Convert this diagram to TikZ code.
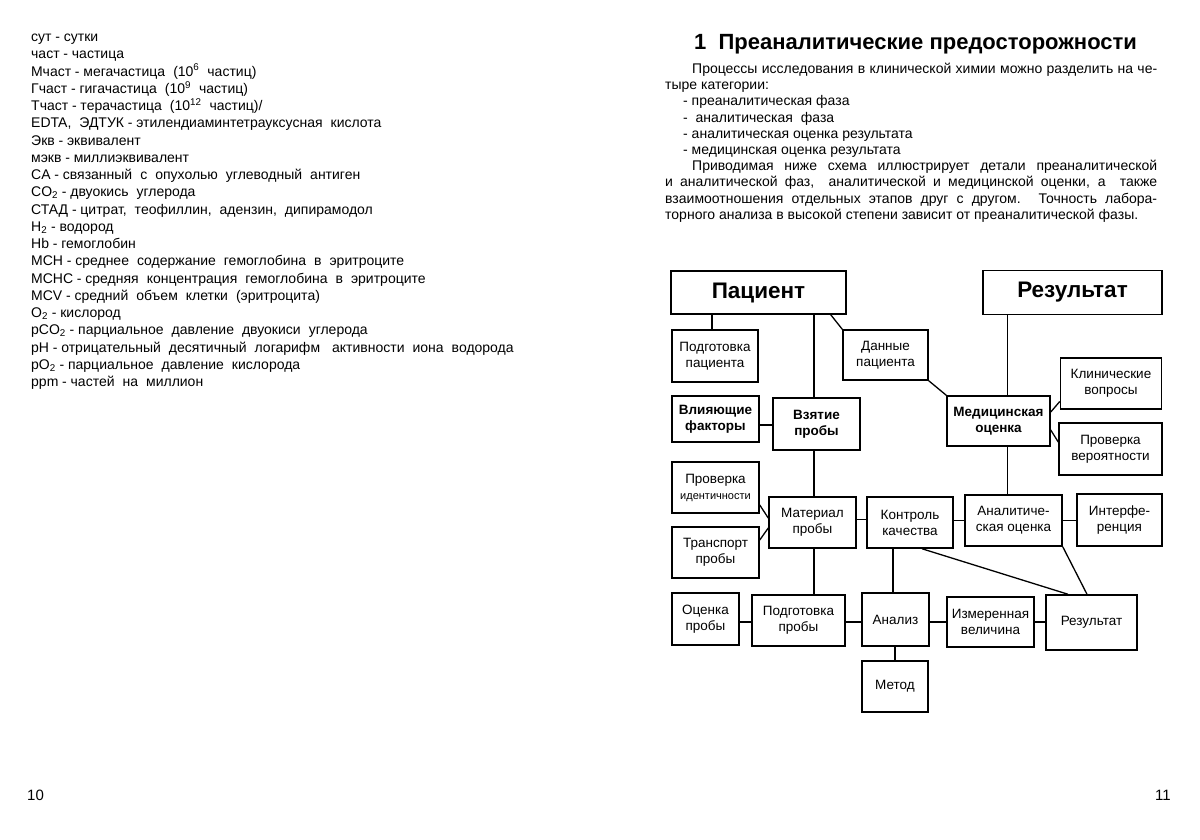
\documentclass[tikz,border=0pt]{standalone}
\usepackage{fontspec}
\setmainfont{Liberation Sans}
\newcommand\dd{\hspace{3.8pt}-\hspace{3.8pt}}
\newcommand\widesp{\spaceskip=8pt\relax}
\begin{document}
\begin{tikzpicture}[x=1pt,y=-1pt,
  lt/.style={anchor=west, inner sep=0pt, font={\fontsize{14}{16}\selectfont\widesp}, text height=10pt, text depth=3pt},
  pt/.style={anchor=west, inner sep=0pt, font=\fontsize{14}{16}\selectfont, text height=10pt, text depth=3pt},
  bx/.style={draw, line width=1.5pt, align=center, inner sep=0pt, font=\fontsize{13.5}{16}\selectfont},
  big/.style={bx, font=\bfseries\fontsize{22.5}{24}\selectfont},
  bb/.style={bx, font=\bfseries\fontsize{13.5}{16}\selectfont},
  ln/.style={line width=1.3pt}
]
\useasboundingbox (0,0) rectangle (1200,839);
\fill[white] (0,0) rectangle (1200,839);

% left page glossary
\node[lt] (l1)  at (31,38.00)  {сут\dd сутки};
\node[lt] (l2)  at (31,55.25)  {част\dd частица};
\node[lt] (l3)  at (31,72.50)  {Мчаст\dd мегачастица (10\textsuperscript{6} частиц)};
\node[lt] (l4)  at (31,89.75)  {Гчаст\dd гигачастица (10\textsuperscript{9} частиц)};
\node[lt] (l5)  at (31,107.00) {Тчаст\dd терачастица (10\textsuperscript{12} частиц)/};
\node[lt] (l6)  at (31,124.25) {EDTA, ЭДТУК\dd этилендиаминтетрауксусная кислота};
\node[lt] (l7)  at (31,141.50) {Экв\dd эквивалент};
\node[lt] (l8)  at (31,158.75) {мэкв\dd миллиэквивалент};
\node[lt] (l9)  at (31,176.00) {CA\dd связанный с опухолью углеводный антиген};
\node[lt] (l10) at (31,193.25) {CO\textsubscript{2}\dd двуокись углерода};
\node[lt] (l11) at (31,210.50) {СТАД\dd цитрат, теофиллин, адензин, дипирамодол};
\node[lt] (l12) at (31,227.75) {H\textsubscript{2}\dd водород};
\node[lt] (l13) at (31,245.00) {Hb\dd гемоглобин};
\node[lt] (l14) at (31,262.25) {MCH\dd среднее содержание гемоглобина в эритроците};
\node[lt] (l15) at (31,279.50) {MCHC\dd средняя концентрация гемоглобина в эритроците};
\node[lt] (l16) at (31,296.75) {MCV\dd средний объем клетки (эритроцита)};
\node[lt] (l17) at (31,314.00) {O\textsubscript{2}\dd кислород};
\node[lt] (l18) at (31,331.25) {pCO\textsubscript{2}\dd парциальное давление двуокиси углерода};
\node[lt] (l19) at (31,348.50) {pH\dd отрицательный десятичный логарифм\hspace{4pt} активности иона водорода};
\node[lt] (l20) at (31,365.75) {pO\textsubscript{2}\dd парциальное давление кислорода};
\node[lt] (l21) at (31,383.00) {ppm\dd частей на миллион};

% page numbers
\node[anchor=west, inner sep=0pt, font=\fontsize{15}{17}\selectfont] (pg10) at (27,795) {10};
\node[anchor=east, inner sep=0pt, font=\fontsize{15}{17}\selectfont] (pg11) at (1171,795) {11};

% right page heading and text
\node[anchor=west, inner sep=0pt, font=\bfseries\fontsize{22}{24}\selectfont] (title) at (694,44) {1\ \ Преаналитические предосторожности};
\node[pt] (p1)  at (692,70.0)  {\makebox[465pt][s]{Процессы исследования в клинической химии можно разделить на че-}};
\node[pt] (p2)  at (665,86.2)  {тыре категории:};
\node[pt] (p3)  at (683,102.4) {- преаналитическая фаза};
\node[pt] (p4)  at (683,118.6) {-\ \ аналитическая\ \ фаза};
\node[pt] (p5)  at (683,134.8) {- аналитическая оценка результата};
\node[pt] (p6)  at (683,151.0) {- медицинская оценка результата};
\node[pt] (p7)  at (692,167.2) {\makebox[465pt][s]{Приводимая ниже схема иллюстрирует детали преаналитической}};
\node[pt] (p8)  at (665,183.4) {\makebox[492pt][s]{и аналитической фаз,\ \ аналитической и медицинской оценки, а\ \ также}};
\node[pt] (p9)  at (665,199.6) {\makebox[492pt][s]{взаимоотношения отдельных этапов друг с другом. Точность лабора-}};
\node[pt] (p10) at (665,215.8) {торного анализа в высокой степени зависит от преаналитической фазы.};

% diagram boxes
\node[big, minimum width=175pt, minimum height=43pt] (pac) at (758.5,292.5) {Пациент};
\node[big, minimum width=179pt, minimum height=44pt] (res) at (1072.5,292.5) {Результат};
\node[bx, minimum width=86pt, minimum height=52pt] (podpac) at (715,356) {Подготовка\\пациента};
\node[bx, minimum width=85pt, minimum height=50pt] (dan) at (885.5,355) {Данные\\пациента};
\node[bb, minimum width=87pt, minimum height=46pt] (vliy) at (715.5,419) {Влияющие\\факторы};
\node[bb, minimum width=87pt, minimum height=52pt] (vzyat) at (816.5,424) {Взятие\\пробы};
\node[bb, minimum width=103pt, minimum height=50pt] (med) at (998.5,421) {Медицинская\\оценка};
\node[bx, minimum width=101pt, minimum height=51pt] (klin) at (1111,383.5) {Клинические\\вопросы};
\node[bx, minimum width=103pt, minimum height=52pt] (prver) at (1110.5,449) {Проверка\\вероятности};
\node[bx, minimum width=87pt, minimum height=51pt] (prid) at (715.5,487.5) {Проверка\\{\fontsize{11}{13}\selectfont идентичности}};
\node[bx, minimum width=87pt, minimum height=51pt] (mat) at (812.5,522.5) {Материал\\пробы};
\node[bx, minimum width=87pt, minimum height=51pt] (transp) at (715.5,552.5) {Транспорт\\пробы};
\node[bx, minimum width=86pt, minimum height=51pt] (kontr) at (910,522.5) {Контроль\\качества};
\node[bx, minimum width=97pt, minimum height=51pt] (anoc) at (1013.5,520.5) {Аналитиче-\\ская оценка};
\node[bx, minimum width=85pt, minimum height=52pt] (interf) at (1119.5,520) {Интерфе-\\ренция};
\node[bx, minimum width=67pt, minimum height=52pt] (ocen) at (705.5,619) {Оценка\\пробы};
\node[bx, minimum width=93pt, minimum height=51pt] (podpr) at (798.5,620.5) {Подготовка\\пробы};
\node[bx, minimum width=67pt, minimum height=53pt] (analiz) at (895.5,619.5) {Анализ};
\node[bx, minimum width=87pt, minimum height=50pt] (izm) at (990.5,622) {Измеренная\\величина};
\node[bx, minimum width=91pt, minimum height=55pt] (res2) at (1091.5,622.5) {Результат};
\node[bx, minimum width=66pt, minimum height=51pt] (metod) at (895,686.5) {Метод};

\coordinate (vx) at (814,0);
\coordinate (mx) at (1007.5,0);
\coordinate (kx) at (893,0);

% connectors
\draw[ln] ([xshift=-3pt]podpac.north) -- ([xshift=-3pt]podpac.north |- pac.south);
\draw[ln] (pac.south -| vx) -- (vzyat.north -| vx);
\draw[ln] ([xshift=-16pt]pac.south east) -- (dan.north west);
\draw[ln] ([yshift=-1pt]vzyat.west) -- ([yshift=-1pt]vzyat.west -| vliy.east);
\draw[ln] (vzyat.south -| vx) -- (mat.north -| vx);
\draw[ln] (mat.south -| vx) -- (podpr.north -| vx);
\draw[ln] ([yshift=-17.5pt]prid.east) -- ([yshift=4.5pt]mat.west);
\draw[ln] ([yshift=12.5pt]transp.east) -- ([yshift=-5.5pt]mat.west);
\draw[ln] ([yshift=3pt]mat.east) -- ([yshift=3pt]mat.east -| kontr.west);
\draw[ln] (anoc.west) -- (anoc.west -| kontr.east);
\draw[ln] (anoc.east) -- (anoc.east -| interf.west);
\draw[ln] (res.south -| mx) -- (med.north -| mx);
\draw[ln] (dan.south east) -- (med.north west);
\draw[ln] ([yshift=9pt]med.east) -- ([yshift=-18pt]klin.west);
\draw[ln] ([yshift=-9pt]med.east) -- ([yshift=7pt]prver.west);
\draw[ln] (med.south -| mx) -- (anoc.north -| mx);
\draw[ln] (kontr.south -| kx) -- (analiz.north -| kx);
\draw[ln] ([xshift=12pt]kontr.south) -- ([xshift=-23.5pt]res2.north);
\draw[ln] (anoc.south east) -- ([xshift=-4.5pt]res2.north);
\draw[ln] ([yshift=-1.5pt]podpr.west) -- ([yshift=-1.5pt]podpr.west -| ocen.east);
\draw[ln] ([yshift=-1.5pt]podpr.east) -- ([yshift=-1.5pt]podpr.east -| analiz.west);
\draw[ln] (izm.west) -- (izm.west -| analiz.east);
\draw[ln] (izm.east) -- (izm.east -| res2.west);
\draw[ln] (analiz.south -| metod.north) -- (metod.north);
\end{tikzpicture}
\end{document}
